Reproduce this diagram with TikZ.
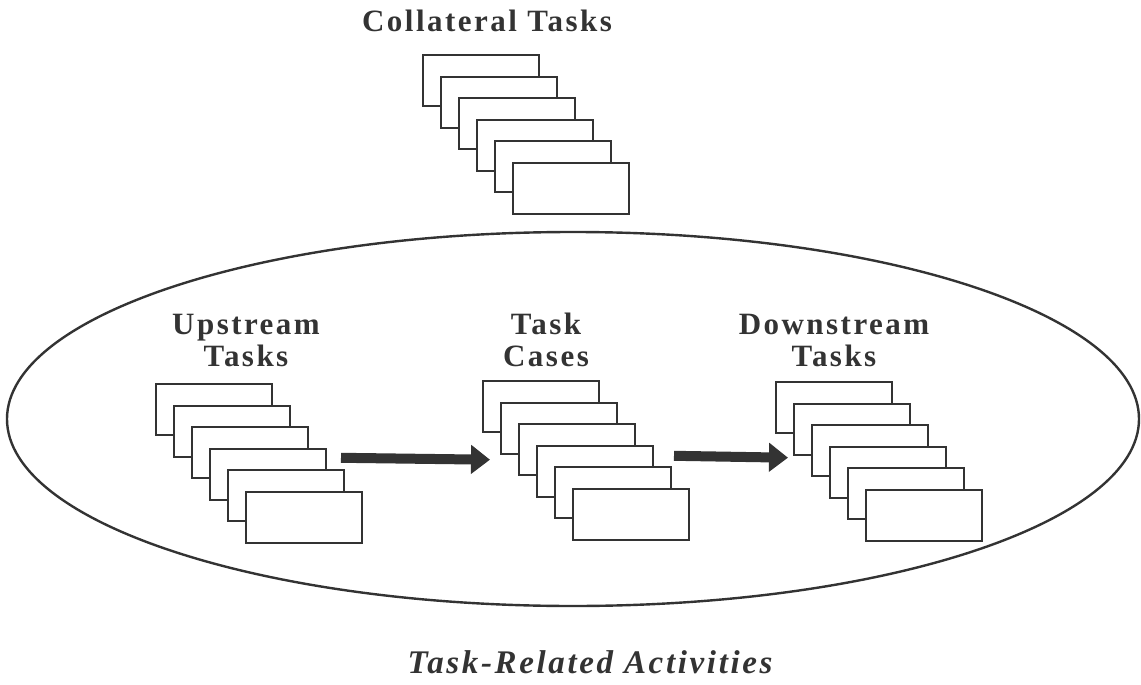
\documentclass[tikz,border=0pt]{standalone}
\usepackage{fontspec}
\setmainfont{Liberation Serif}
\newfontfamily\labelfont[LetterSpace=8]{Liberation Serif}
\usetikzlibrary{arrows.meta}
\definecolor{ink}{HTML}{333333}
\begin{document}
\begin{tikzpicture}[x=1pt,y=-1pt,
	card/.style={draw=ink,fill=white,line width=2pt,minimum width=116pt,minimum height=51pt,anchor=north west,inner sep=0pt},
	heading/.style={text=ink,font=\labelfont\bfseries\fontsize{31}{32}\selectfont,align=center},
	fatarrow/.style={ink,line width=10pt,-{Triangle[length=19pt,width=28pt]}}]
	\useasboundingbox (0,0) rectangle (1141,685);
	% the big oval
	\draw[ink,line width=2.4pt] (573,419) ellipse [x radius=566pt,y radius=187pt];
	% stacks of cards, back to front
	\foreach \s/\x/\y in {co/422/54,up/155/383,tc/482/380,dn/775/381}
		\foreach \i in {1,...,6}
			\node[card] (\s\i) at ({\x+18*(\i-1)},{\y+21.6*(\i-1)}) {};
	\node[heading,anchor=base] (cotitle) at (487,32) {Collateral Tasks};
	\node[heading] (uptitle) at (246,340) {Upstream\\Tasks};
	\node[heading] (tctitle) at (546,340) {Task\\Cases};
	\node[heading] (dntitle) at (834,340) {Downstream\\Tasks};
	\draw[fatarrow] ([shift={(14,10)}]up4.north east) -- ([shift={(-28,10)}]tc3.west);
	\draw[fatarrow] ([shift={(20,11)}]tc4.north east) -- ([shift={(-23,7)}]dn3.west);
	\node[text=ink,font=\labelfont\bfseries\itshape\fontsize{33}{36}\selectfont,anchor=base] (caption) at (590,673) {Task-Related Activities};
\end{tikzpicture}
\end{document}
